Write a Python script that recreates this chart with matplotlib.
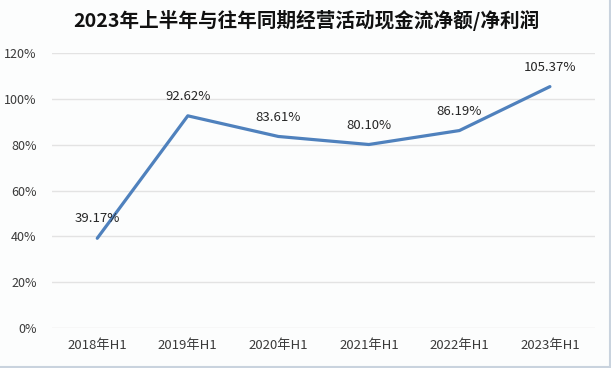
import matplotlib
matplotlib.use("Agg")
import matplotlib.pyplot as plt
from matplotlib.ticker import FuncFormatter

plt.rcParams['font.family'] = ['Noto Sans CJK SC', 'DejaVu Sans']

categories = ["2018年H1", "2019年H1", "2020年H1", "2021年H1", "2022年H1", "2023年H1"]
values = [39.17, 92.62, 83.61, 80.10, 86.19, 105.37]
labels = ["39.17%", "92.62%", "83.61%", "80.10%", "86.19%", "105.37%"]
title = "2023年上半年与往年同期经营活动现金流净额/净利润"

bg = "#fcfdfd"
fig = plt.figure(figsize=(6.11, 3.68), dpi=100, facecolor=bg)
ax = fig.add_axes([0.0851, 0.1087, 0.889, 0.747])
ax.set_facecolor(bg)

x = list(range(len(categories)))
ax.plot(x, values, color="#4f81bd", lw=2.3, solid_capstyle="round")
for xi, v, lab in zip(x, values, labels):
    ax.annotate(lab, (xi, v), xytext=(0, 14), textcoords="offset points",
                ha="center", va="center", fontsize=9.5, color="#262626")

ax.set_xlim(-0.5, len(categories) - 0.5)
ax.set_ylim(0, 120)
ax.set_yticks(range(0, 121, 20))
ax.yaxis.set_major_formatter(FuncFormatter(lambda v, p: f"{int(v)}%"))
ax.set_xticks(x)
ax.set_xticklabels(categories)
ax.tick_params(axis="both", length=0, labelsize=9, colors="#3a3a3a")
ax.tick_params(axis="x", labelsize=9.5, pad=8)
ax.tick_params(axis="y", pad=11)
ax.grid(axis="y", color="#e3e3e3", lw=1)
ax.set_axisbelow(True)
for s in ax.spines.values():
    s.set_visible(False)

fig.text(0.502, 0.945, title, ha="center", va="center", fontsize=14.1,
         fontweight="bold", color="#111111")

# outer border (bottom/right)
fig.add_artist(plt.Line2D([0, 1], [0.004, 0.004], transform=fig.transFigure, color="#c9d3de", lw=1.5))
fig.add_artist(plt.Line2D([0.998, 0.998], [0, 1], transform=fig.transFigure, color="#c9d3de", lw=1.5))

fig.savefig("out.png", dpi=100, facecolor=fig.get_facecolor())
